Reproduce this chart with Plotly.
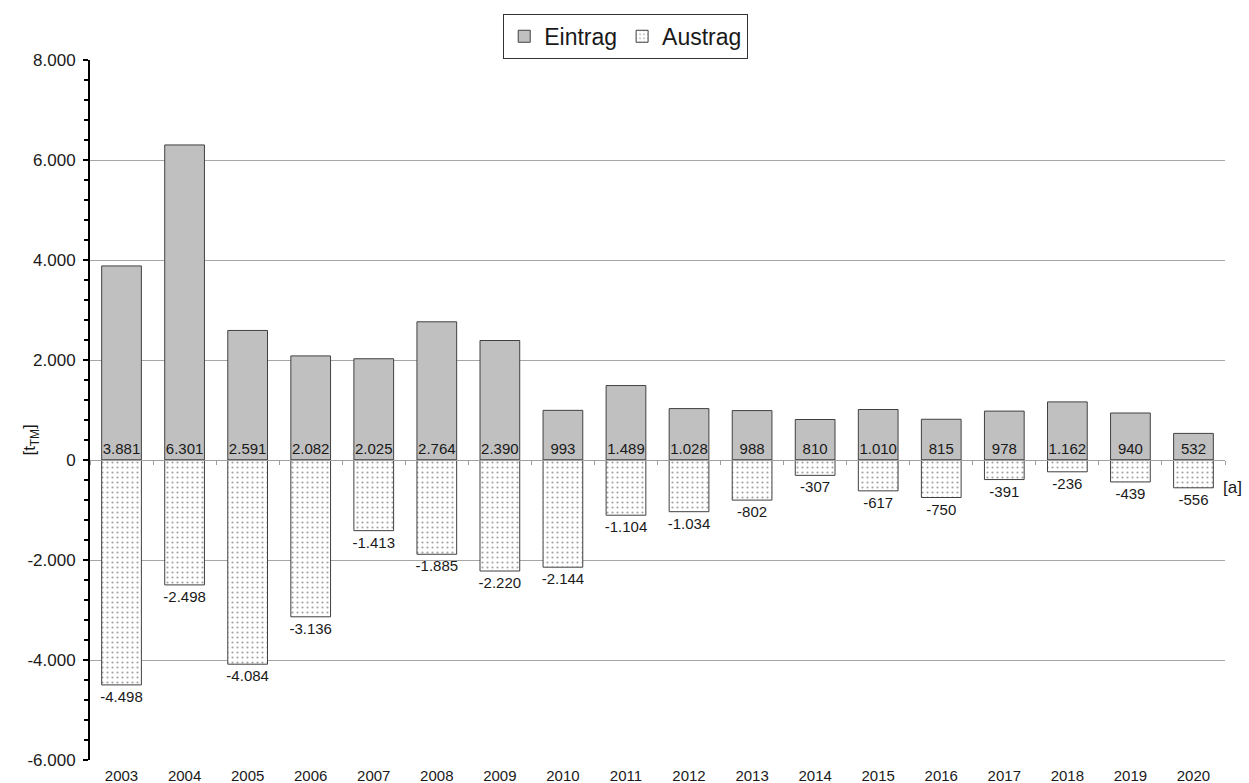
import plotly.graph_objects as go

# Jahreswerte (Trockenmasse in t)
years = [str(y) for y in range(2003, 2021)]
eintrag = [3881, 6301, 2591, 2082, 2025, 2764, 2390, 993, 1489, 1028,
           988, 810, 1010, 815, 978, 1162, 940, 532]
austrag = [-4498, -2498, -4084, -3136, -1413, -1885, -2220, -2144, -1104, -1034,
           -802, -307, -617, -750, -391, -236, -439, -556]

# Achsenbeschriftung der y-Achse (Bindestrich als Minuszeichen)
y_ticks = [-6000, -4000, -2000, 0, 2000, 4000, 6000, 8000]
y_ticklabels = ["-6.000", "-4.000", "-2.000", "0", "2.000", "4.000", "6.000", "8.000"]

FONT = "Liberation Sans, Arial, sans-serif"
TXT = "#1a1a1a"

fig = go.Figure()

fig.add_trace(go.Bar(
    x=years, y=eintrag, name="Eintrag",
    marker=dict(color="#c0c0c0", line=dict(color="#404040", width=1)),
    texttemplate="%{y:,d}", textposition="inside", insidetextanchor="start",
    textangle=0, constraintext="none",
    textfont=dict(family=FONT, size=15, color=TXT),
))

fig.add_trace(go.Bar(
    x=years, y=austrag, name="Austrag",
    marker=dict(color="white", line=dict(color="#404040", width=1),
                pattern=dict(shape=".", fgcolor="#444444", bgcolor="white",
                             size=5, solidity=0.15)),
    texttemplate="%{y:,d}", textposition="outside",
    textangle=0, constraintext="none", cliponaxis=False,
    textfont=dict(family=FONT, size=15, color=TXT),
))

# Hilfsachse auf der Nulllinie mit Teilstrichen zwischen den Jahren
fig.add_trace(go.Scatter(
    x=years, y=[0] * len(years), xaxis="x2", mode="markers",
    marker=dict(opacity=0), showlegend=False, hoverinfo="skip",
))

n = len(years)
fig.update_layout(
    width=1249, height=783,
    margin=dict(l=90, r=24, t=60, b=23),
    paper_bgcolor="white", plot_bgcolor="white",
    separators=",.",
    barmode="overlay", bargap=0.37,
    font=dict(family=FONT, size=15, color=TXT),
    legend=dict(orientation="h", x=0.472, xanchor="center", y=1.066, yanchor="top",
                font=dict(size=23, color=TXT), bordercolor="#333333", borderwidth=1,
                bgcolor="white", itemwidth=30, traceorder="normal"),
    xaxis=dict(type="category", range=[-0.5, n - 0.5], showgrid=False,
               showline=False, ticks="", ticklabelstandoff=5,
               tickfont=dict(size=15), automargin=False, fixedrange=True),
    xaxis2=dict(type="category", matches="x", overlaying="x", anchor="free",
                position=6000 / 14000, side="bottom",
                showline=True, linecolor="#a0a0a0", linewidth=1,
                ticks="outside", tickson="boundaries", ticklen=4,
                tickcolor="#a0a0a0", showticklabels=False, showgrid=False),
    yaxis=dict(range=[-6000, 8000], tickvals=y_ticks, ticktext=y_ticklabels,
               showgrid=True, gridcolor="#a6a6a6", gridwidth=1,
               zeroline=False,
               showline=True, linecolor="black", linewidth=2,
               ticks="outside", ticklen=5, tickwidth=2, tickcolor="black",
               ticklabelstandoff=4,
               minor=dict(dtick=400, ticks="outside", ticklen=4, tickwidth=2,
                          tickcolor="black", showgrid=False),
               tickfont=dict(size=17), automargin=False, fixedrange=True),
    annotations=[
        dict(text="[t<sub>TM</sub>]", xref="paper", yref="paper",
             x=-0.063, y=0.457, textangle=-90, showarrow=False,
             font=dict(size=17, color=TXT)),
        dict(text="[a]", xref="paper", yref="paper",
             x=1.017, y=0.39, showarrow=False,
             font=dict(size=17, color=TXT)),
    ],
)

fig.write_html("out.html")
